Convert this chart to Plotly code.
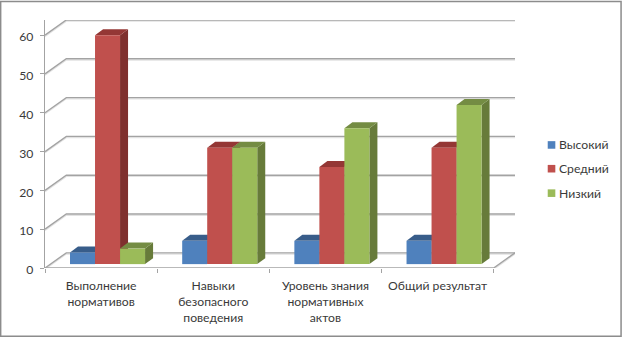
import plotly.graph_objects as go

categories = ["Выполнение<br>нормативов", "Навыки<br>безопасного<br>поведения", "Уровень знания<br>нормативных<br>актов", "Общий результат"]
series_names = ["Высокий", "Средний", "Низкий"]
vysokiy = [3, 6, 6, 6]
sredniy = [59, 30, 25, 30]
nizkiy = [4, 30, 35, 41]
y_ticks = [0, 10, 20, 30, 40, 50, 60]

front_colors = ["#4F81BD", "#C0504D", "#9BBB59"]
side_colors = ["#3A5F8B", "#7F302E", "#677B3A"]
top_colors = ["#385D8A", "#943735", "#748C43"]

# pixel geometry of the fake 3d box
W, H = 623, 338
L, R, T, B = 45.3, 515.0, 19.5, 268.0
PX_X = 112.1          # pixels per category
PX_Y = 3.889          # pixels per y unit
WALL_DX = (R - L) / PX_X - 4
WALL_DY = 15.2 / PX_Y
SHADOW = 1.3 / PX_Y
BAR_W = 25 / PX_X
BAR_OFFSET = 25 / PX_X
BAR_BASE = 1
DEPTH_X = 8 / PX_X
DEPTH_Y = 6 / PX_Y
X_RANGE = [0, 4 + WALL_DX]
Y_RANGE = [0, (B - T) / PX_Y]

GRAY = "#A3A3A3"
FONT = "Lato, 'Noto Sans', sans-serif"
TEXT = "#3A3A3A"


def paper_x(px):
    return (px - L) / (R - L)


def paper_y(px):
    return (B - px) / (B - T)


fig = go.Figure()

# walls, with the soft shadow the lines have in the original
grid_x, grid_y = [], []
for v in y_ticks:
    grid_x += [0, WALL_DX, 4 + WALL_DX, None]
    grid_y += [v, v + WALL_DY, v + WALL_DY, None]
grid_x += [0, 4, 4 + WALL_DX]
grid_y += [0, 0, WALL_DY]
shadow_y = [None if v is None else v - SHADOW for v in grid_y]
fig.add_trace(go.Scatter(x=grid_x, y=shadow_y, mode="lines", line=dict(color="#E2E2E2", width=1.2), hoverinfo="skip", showlegend=False, cliponaxis=False))
fig.add_trace(go.Scatter(x=grid_x, y=grid_y, mode="lines", line=dict(color=GRAY, width=1.4), hoverinfo="skip", showlegend=False, cliponaxis=False))

# bar sides and tops go under the bar fronts
all_values = [vysokiy, sredniy, nizkiy]
for g in range(len(categories)):
    for s, values in enumerate(all_values):
        x0 = g + BAR_OFFSET + s * BAR_W
        x1 = x0 + BAR_W
        y0 = BAR_BASE
        y1 = BAR_BASE + values[g]
        fig.add_trace(go.Scatter(
            x=[x1, x1 + DEPTH_X, x1 + DEPTH_X, x1, x1],
            y=[y0, y0 + DEPTH_Y, y1 + DEPTH_Y, y1, y0],
            mode="lines", fill="toself", fillcolor=side_colors[s], line=dict(width=0),
            hoverinfo="skip", showlegend=False,
        ))
        fig.add_trace(go.Scatter(
            x=[x0, x1, x1 + DEPTH_X, x0 + DEPTH_X, x0],
            y=[y1, y1, y1 + DEPTH_Y, y1 + DEPTH_Y, y1],
            mode="lines", fill="toself", fillcolor=top_colors[s], line=dict(width=0),
            hoverinfo="skip", showlegend=False,
        ))

# fronts on an overlaid axis pair so they stay above the scatter faces
for s, values in enumerate(all_values):
    fig.add_trace(go.Bar(
        x=[g + BAR_OFFSET + (s + 0.5) * BAR_W for g in range(len(categories))],
        y=values,
        base=BAR_BASE,
        width=BAR_W,
        name=series_names[s],
        marker=dict(color=front_colors[s], line=dict(width=0)),
        xaxis="x2",
        yaxis="y2",
        showlegend=False,
    ))

fig.update_layout(
    width=W,
    height=H,
    margin=dict(l=L, r=W - R, t=T, b=H - B, autoexpand=False),
    paper_bgcolor="white",
    plot_bgcolor="white",
    font=dict(family=FONT, size=12.2, color=TEXT),
    hovermode=False,
    xaxis=dict(
        range=X_RANGE,
        showgrid=False,
        zeroline=False,
        showline=False,
        tickmode="array",
        tickvals=[i + 0.5 for i in range(len(categories))],
        ticktext=categories,
        ticks="",
        ticklabelstandoff=9,
        minor=dict(tickmode="array", tickvals=list(range(len(categories) + 1)), ticks="outside", ticklen=4, tickcolor=GRAY, tickwidth=1.4),
    ),
    yaxis=dict(
        range=Y_RANGE,
        showgrid=False,
        zeroline=False,
        showline=True,
        linecolor=GRAY,
        linewidth=1.4,
        tickmode="array",
        tickvals=y_ticks,
        ticks="outside",
        ticklen=4,
        tickcolor=GRAY,
        tickwidth=1.4,
        ticklabelstandoff=4,
        ticklabelshift=2,
    ),
    xaxis2=dict(range=X_RANGE, overlaying="x", anchor="y2", visible=False),
    yaxis2=dict(range=Y_RANGE, overlaying="y", anchor="x2", visible=False),
)

# outer frame
fig.add_shape(type="rect", xref="paper", yref="paper", x0=paper_x(1), x1=paper_x(621), y0=paper_y(336.5), y1=paper_y(1), line=dict(color="#8C8C8C", width=1.5), fillcolor="rgba(0,0,0,0)")

# legend
for s, name in enumerate(series_names):
    cy = [144.7, 168.5, 193][s]
    fig.add_shape(type="rect", xref="paper", yref="paper", x0=paper_x(547.7), x1=paper_x(555.3), y0=paper_y(cy + 3.8), y1=paper_y(cy - 3.8), fillcolor=front_colors[s], line=dict(width=0))
    fig.add_annotation(xref="paper", yref="paper", x=paper_x(556.5), y=paper_y(cy), text=name, showarrow=False, xanchor="left", yanchor="middle")

# the page body has a default margin that would push the chart off its place
fig.write_html("out.html", post_script="document.body.style.margin='0';", config=dict(displayModeBar=False))
